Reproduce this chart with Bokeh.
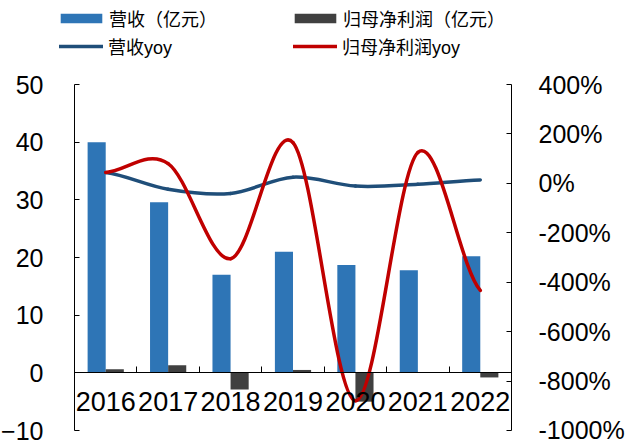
from bokeh.plotting import figure
from bokeh.models import (Range1d, LinearAxis, FixedTicker, PrintfTickFormatter,
                          Legend, LegendItem, ColumnDataSource)
from bokeh.transform import dodge
from bokeh.embed import file_html
from bokeh.resources import INLINE

# ---- data ----
years = ["2016", "2017", "2018", "2019", "2020", "2021", "2022"]
revenue = [40.0, 29.6, 17.0, 21.0, 18.7, 17.8, 20.2]          # 营收（亿元）
net_profit = [0.6, 1.3, -2.9, 0.5, -5.0, 0.1, -0.8]            # 归母净利润（亿元）
revenue_yoy = [44, -24, -41, 25, -11, -4, 14]                  # 营收yoy (%)
profit_yoy = [44, 80, -305, 165, -880, 125, -433]              # 归母净利润yoy (%)
left_ticks = [-10, 0, 10, 20, 30, 40, 50]
right_ticks = [-1000, -800, -600, -400, -200, 0, 200, 400]
series_names = ["营收（亿元）", "归母净利润（亿元）", "营收yoy", "归母净利润yoy"]

BLUE = "#2E75B6"
DARK = "#404040"
NAVY = "#1F4E79"
RED = "#C00000"
TICK_FONT = "Liberation Sans"
LEG_FONT = "Liberation Sans, Noto Sans CJK SC"

W, H = 632, 443
# pixel layout of the plotting area inside the page
AX_L, AX_R, AX_T, AX_B = 74, 511, 84, 430

n = len(years)
idx = list(range(n))
bounds = [i + 0.5 for i in range(n - 1)]

# ranges extended so the axes sit at the pixel box above while the frame fills the page
xs = n / (AX_R - AX_L)
ls = (left_ticks[-1] - left_ticks[0]) / (AX_B - AX_T)
rs = (right_ticks[-1] - right_ticks[0]) / (AX_B - AX_T)
x_range = Range1d(-0.5 - AX_L * xs, n - 0.5 + (W - AX_R) * xs)
y_range = Range1d(left_ticks[0] - (H - AX_B) * ls, left_ticks[-1] + AX_T * ls)
yoy_range = Range1d(right_ticks[0] - (H - AX_B) * rs, right_ticks[-1] + AX_T * rs)

p = figure(width=W, height=H, output_backend="svg", toolbar_location=None,
           x_range=x_range, y_range=y_range,
           x_axis_location=None, y_axis_location=None,
           min_border=0, min_border_left=0, min_border_right=0,
           min_border_top=0, min_border_bottom=0)
p.outline_line_color = None
p.grid.visible = False
p.extra_y_ranges = {"yoy": yoy_range}

# ---- axes ----
common = dict(axis_line_color="black", axis_line_width=1,
              major_tick_line_color="black", major_label_text_color="black",
              major_label_text_font=TICK_FONT)
yl = LinearAxis(fixed_location=-0.5, bounds=(left_ticks[0], left_ticks[-1]),
                ticker=FixedTicker(ticks=left_ticks), major_tick_in=5, major_tick_out=0,
                minor_tick_line_color=None, major_label_standoff=31,
                major_label_text_font_size="25px", **common)
p.add_layout(yl, "left")
yr = LinearAxis(y_range_name="yoy", fixed_location=n - 0.5,
                bounds=(right_ticks[0], right_ticks[-1]),
                ticker=FixedTicker(ticks=right_ticks),
                formatter=PrintfTickFormatter(format="%d%%"),
                major_tick_in=5, major_tick_out=0, minor_tick_line_color=None,
                major_label_standoff=27, major_label_text_font_size="25px", **common)
p.add_layout(yr, "right")
xa = LinearAxis(fixed_location=0, bounds=(-0.5, n - 0.5),
                ticker=FixedTicker(ticks=idx, minor_ticks=bounds),
                major_label_overrides={i: y for i, y in zip(idx, years)},
                major_tick_in=0, major_tick_out=0, minor_tick_in=6, minor_tick_out=0,
                minor_tick_line_color="black", major_label_standoff=19,
                major_label_text_font_size="27px", **common)
p.add_layout(xa, "below")

# ---- bars ----
src = ColumnDataSource(dict(x=idx, revenue=revenue, profit=net_profit))
r_bar_rev = p.vbar(x=dodge("x", -0.145), top="revenue", bottom=0, width=0.29,
                   fill_color=BLUE, line_color=None, source=src)
r_bar_pro = p.vbar(x=dodge("x", 0.145), top="profit", bottom=0, width=0.29,
                   fill_color=DARK, line_color=None, source=src)


# ---- smoothed lines (cubic bezier through each data point) ----
def smooth_source(vals):
    ext = [vals[0]] + list(vals) + [vals[-1]]
    m = len(vals) - 1
    return ColumnDataSource(dict(
        x0=[i for i in range(m)], x1=[i + 1 for i in range(m)],
        cx0=[i + 1 / 3 for i in range(m)], cx1=[i + 2 / 3 for i in range(m)],
        y0=list(vals[:-1]), y1=list(vals[1:]),
        cy0=[vals[i] + (ext[i + 2] - ext[i]) / 6 for i in range(m)],
        cy1=[vals[i + 1] - (ext[i + 3] - ext[i + 1]) / 6 for i in range(m)],
    ))


r_rev = p.bezier(x0="x0", y0="y0", x1="x1", y1="y1", cx0="cx0", cy0="cy0",
                 cx1="cx1", cy1="cy1", line_color=NAVY, line_width=3.5,
                 line_cap="round", y_range_name="yoy", source=smooth_source(revenue_yoy))
r_pro = p.bezier(x0="x0", y0="y0", x1="x1", y1="y1", cx0="cx0", cy0="cy0",
                 cx1="cx1", cy1="cy1", line_color=RED, line_width=3.5,
                 line_cap="round", y_range_name="yoy", source=smooth_source(profit_yoy))

leg_style = dict(orientation="horizontal", ncols=2, padding=0, margin=0, spacing=0,
                 border_line_color=None, background_fill_alpha=0,
                 label_text_font=LEG_FONT, label_text_font_size="18px",
                 label_text_color="black", label_height=20)

legend_bars = Legend(items=[
    LegendItem(label=series_names[0], renderers=[r_bar_rev]),
    LegendItem(label=series_names[1], renderers=[r_bar_pro]),
], location=(55, H - 31), glyph_width=52, glyph_height=12, label_standoff=2,
    label_width=180, **leg_style)
legend_lines = Legend(items=[
    LegendItem(label=series_names[2], renderers=[r_rev]),
    LegendItem(label=series_names[3], renderers=[r_pro]),
], location=(59, H - 59), glyph_width=44, glyph_height=10, label_standoff=5,
    label_width=185, **leg_style)
p.add_layout(legend_bars, "center")
p.add_layout(legend_lines, "center")

open("out.html", "w").write(file_html(p, INLINE))
